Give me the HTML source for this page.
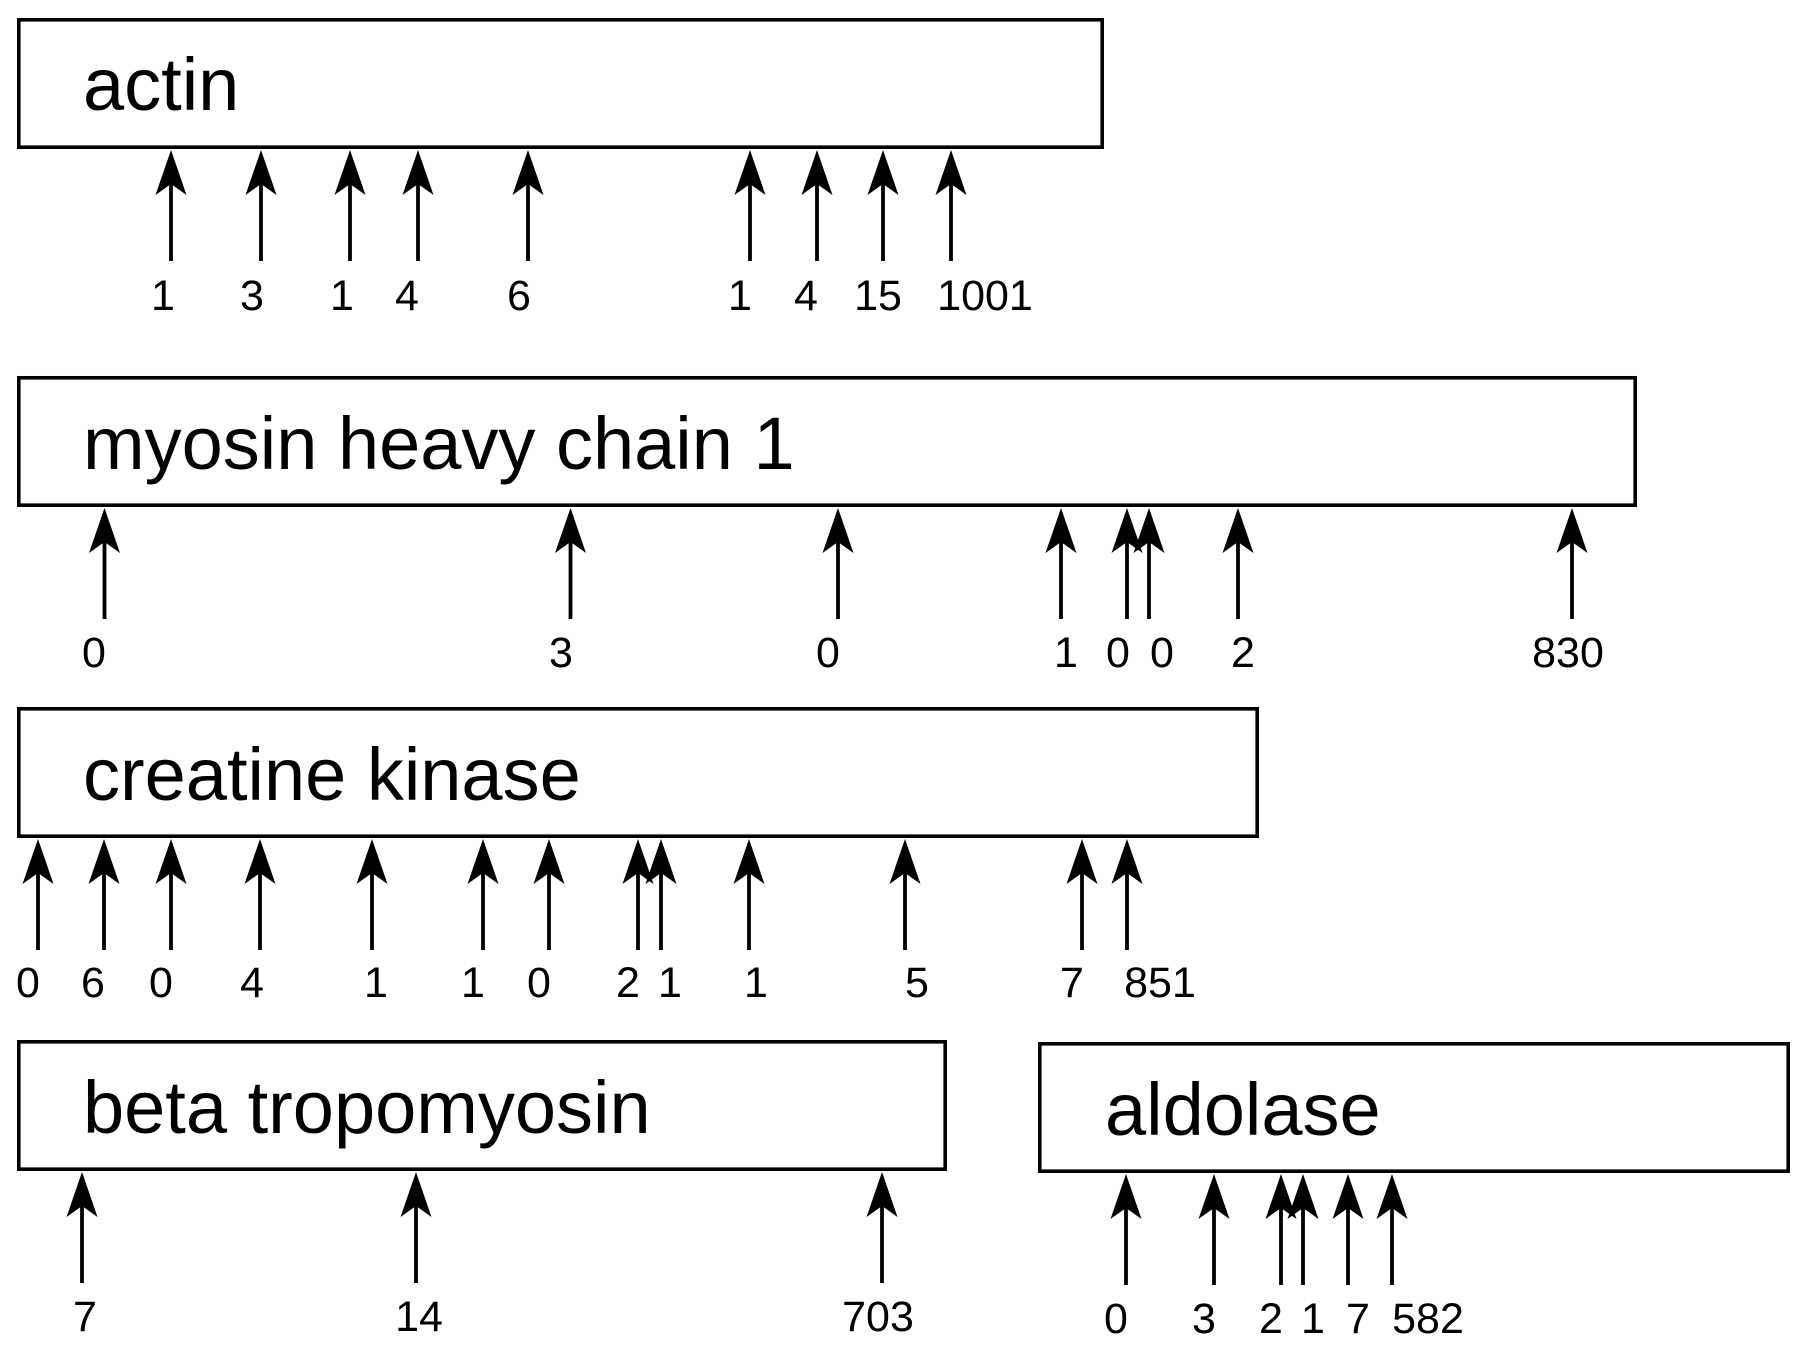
<!DOCTYPE html>
<html>
<head>
<meta charset="utf-8">
<style>
  html, body { margin: 0; padding: 0; background: #fff; }
  svg { display: block; }
  .box { fill: #fff; stroke: #000; stroke-width: 3.6; }
  .title { font-family: "Liberation Sans", Arial, sans-serif; font-size: 74px; fill: #000; }
  .num { font-family: "Liberation Sans", Arial, sans-serif; font-size: 43px; fill: #000; text-anchor: middle; }
  .shaft { stroke: #000; stroke-width: 3.8; }
</style>
</head>
<body>
<svg width="1800" height="1347" viewBox="0 0 1800 1347" xmlns="http://www.w3.org/2000/svg">
  <defs>
    <g id="arr">
      <line class="shaft" x1="0" y1="30" x2="0" y2="111"/>
      <path d="M0,0 L15.5,45 L0,34 L-15.5,45 Z" fill="#000"/>
    </g>
  </defs>

  <!-- actin -->
  <rect class="box" x="18.8" y="19.8" width="1083.4" height="127.4"/>
  <text class="title" x="83" y="110">actin</text>
  <g transform="translate(0,150)">
    <use href="#arr" x="171"/>
    <use href="#arr" x="261"/>
    <use href="#arr" x="350"/>
    <use href="#arr" x="418"/>
    <use href="#arr" x="528"/>
    <use href="#arr" x="750"/>
    <use href="#arr" x="817"/>
    <use href="#arr" x="883"/>
    <use href="#arr" x="951"/>
  </g>
  <text class="num" x="163" y="310">1</text>
  <text class="num" x="252" y="310">3</text>
  <text class="num" x="342" y="310">1</text>
  <text class="num" x="407" y="310">4</text>
  <text class="num" x="519" y="310">6</text>
  <text class="num" x="740" y="310">1</text>
  <text class="num" x="806" y="310">4</text>
  <text class="num" x="878" y="310">15</text>
  <text class="num" x="985" y="310">1001</text>

  <!-- myosin heavy chain 1 -->
  <rect class="box" x="18.8" y="377.8" width="1616.4" height="127.4"/>
  <text class="title" x="83" y="469">myosin heavy chain 1</text>
  <g transform="translate(0,508)">
    <use href="#arr" x="104.5"/>
    <use href="#arr" x="570.5"/>
    <use href="#arr" x="838"/>
    <use href="#arr" x="1061"/>
    <use href="#arr" x="1127"/>
    <use href="#arr" x="1149"/>
    <use href="#arr" x="1238"/>
    <use href="#arr" x="1572"/>
  </g>
  <text class="num" x="94" y="667">0</text>
  <text class="num" x="561" y="667">3</text>
  <text class="num" x="828" y="667">0</text>
  <text class="num" x="1066" y="667">1</text>
  <text class="num" x="1118" y="667">0</text>
  <text class="num" x="1162" y="667">0</text>
  <text class="num" x="1243" y="667">2</text>
  <text class="num" x="1568" y="667">830</text>

  <!-- creatine kinase -->
  <rect class="box" x="18.8" y="708.8" width="1238.4" height="127.4"/>
  <text class="title" x="83" y="800">creatine kinase</text>
  <g transform="translate(0,839)">
    <use href="#arr" x="38"/>
    <use href="#arr" x="104"/>
    <use href="#arr" x="171"/>
    <use href="#arr" x="260"/>
    <use href="#arr" x="372"/>
    <use href="#arr" x="483"/>
    <use href="#arr" x="549"/>
    <use href="#arr" x="638"/>
    <use href="#arr" x="661"/>
    <use href="#arr" x="749"/>
    <use href="#arr" x="905"/>
    <use href="#arr" x="1082"/>
    <use href="#arr" x="1127"/>
  </g>
  <text class="num" x="28" y="997">0</text>
  <text class="num" x="93" y="997">6</text>
  <text class="num" x="161" y="997">0</text>
  <text class="num" x="252" y="997">4</text>
  <text class="num" x="376" y="997">1</text>
  <text class="num" x="473" y="997">1</text>
  <text class="num" x="539" y="997">0</text>
  <text class="num" x="628" y="997">2</text>
  <text class="num" x="670" y="997">1</text>
  <text class="num" x="756" y="997">1</text>
  <text class="num" x="917" y="997">5</text>
  <text class="num" x="1072" y="997">7</text>
  <text class="num" x="1160" y="997">851</text>

  <!-- beta tropomyosin -->
  <rect class="box" x="18.8" y="1041.8" width="926.4" height="127.4"/>
  <text class="title" x="83" y="1133">beta tropomyosin</text>
  <g transform="translate(0,1172)">
    <use href="#arr" x="82"/>
    <use href="#arr" x="416"/>
    <use href="#arr" x="882"/>
  </g>
  <text class="num" x="85" y="1331">7</text>
  <text class="num" x="419" y="1331">14</text>
  <text class="num" x="878" y="1331">703</text>

  <!-- aldolase -->
  <rect class="box" x="1039.8" y="1043.8" width="748.4" height="127.4"/>
  <text class="title" x="1105" y="1135">aldolase</text>
  <g transform="translate(0,1174)">
    <use href="#arr" x="1126"/>
    <use href="#arr" x="1214"/>
    <use href="#arr" x="1281"/>
    <use href="#arr" x="1303"/>
    <use href="#arr" x="1348"/>
    <use href="#arr" x="1392"/>
  </g>
  <text class="num" x="1116" y="1333">0</text>
  <text class="num" x="1204" y="1333">3</text>
  <text class="num" x="1271" y="1333">2</text>
  <text class="num" x="1313" y="1333">1</text>
  <text class="num" x="1358" y="1333">7</text>
  <text class="num" x="1428" y="1333">582</text>
</svg>
</body>
</html>
